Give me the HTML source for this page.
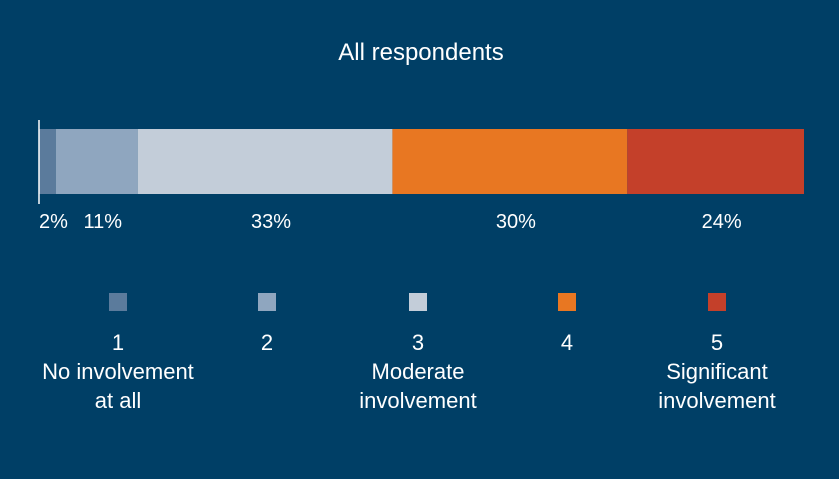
<!DOCTYPE html>
<html><head><meta charset="utf-8"><style>
html,body{margin:0;padding:0;background:#003f66;}
svg{display:block;}
text{font-family:"Liberation Sans Narrow","Liberation Sans",sans-serif;fill:#ffffff;}
</style></head><body>
<svg id="chart" width="839" height="479" viewBox="0 0 839 479">
<rect x="0" y="0" width="839" height="479" fill="#003f66"/>
<text x="421" y="60" font-size="24" text-anchor="middle">All respondents</text>
<g id="bars"></g>
<line x1="39" y1="120" x2="39" y2="204" stroke="#ffffff" stroke-width="1.5"/>
<g id="legend"></g>
</svg>
<script>
const categories = ["1", "2", "3", "4", "5"];
const values = [2.2, 10.7, 33.3, 30.7, 23.1];
const valueLabels = ["2%", "11%", "33%", "30%", "24%"];
const legendNames = [["No involvement","at all"], [], ["Moderate","involvement"], [], ["Significant","involvement"]];
const colors = ["#5b7b9c", "#8fa6bf", "#c3cdd9", "#e87722", "#c4402a"];

const NS = "http://www.w3.org/2000/svg";
const x0 = 39, x1 = 804, barY = 129, barH = 65;
const total = values.reduce((a,b)=>a+b,0);
function xScale(v){ return x0 + (v/total)*(x1-x0); }
const bars = document.getElementById("bars");
let cum = 0;
values.forEach((v,i)=>{
  const xa = xScale(cum), xb = xScale(cum+v);
  const r = document.createElementNS(NS,"rect");
  r.setAttribute("x", xa); r.setAttribute("y", barY);
  r.setAttribute("width", xb-xa); r.setAttribute("height", barH);
  r.setAttribute("fill", colors[i]);
  
  
  bars.appendChild(r);
  const t = document.createElementNS(NS,"text");
  t.setAttribute("x", (xa+xb)/2 + 6); t.setAttribute("y", 228);
  t.setAttribute("font-size", "20"); t.setAttribute("text-anchor", "middle");
  t.textContent = valueLabels[i];
  
  
  bars.appendChild(t);
  cum += v;
});
const legend = document.getElementById("legend");
const lx = [118, 267, 418, 567, 717];
categories.forEach((c,i)=>{
  const s = document.createElementNS(NS,"rect");
  s.setAttribute("x", lx[i]-9); s.setAttribute("y", 293);
  s.setAttribute("width", 18); s.setAttribute("height", 18);
  s.setAttribute("fill", colors[i]);
  
  
  legend.appendChild(s);
  const lines = [c].concat(legendNames[i]);
  lines.forEach((ln,j)=>{
    const t = document.createElementNS(NS,"text");
    t.setAttribute("x", lx[i]); t.setAttribute("y", 350 + j*29);
    t.setAttribute("font-size", "22"); t.setAttribute("text-anchor", "middle");
    t.textContent = ln;
    
    
    legend.appendChild(t);
  });
});
</script>
</body></html>
